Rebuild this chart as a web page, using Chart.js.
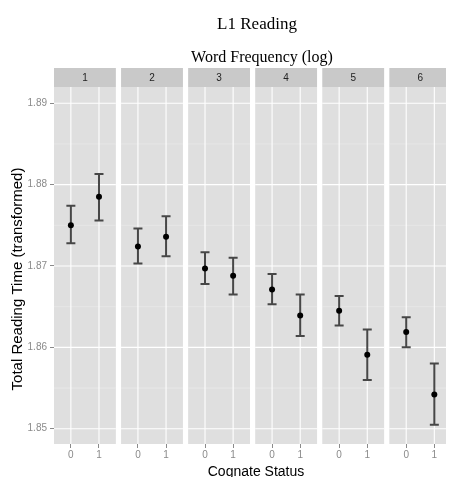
<!DOCTYPE html>
<html>
<head>
<meta charset="utf-8">
<title>L1 Reading</title>
<script src="https://cdn.jsdelivr.net/npm/chart.js@4.4.1/dist/chart.umd.min.js"></script>
<style>
  html, body { margin: 0; padding: 0; background: #fff; }
  #wrap { width: 450px; height: 477px; }
</style>
</head>
<body>
<div id="wrap"><canvas id="readingChart" width="450" height="477"></canvas></div>
<script>
// Word frequency panels and cognate status levels
const freqLevels = ['1', '2', '3', '4', '5', '6'];
const cognateLevels = ['0', '1'];

// Means and error bar limits
const means0 = [1.8750, 1.8724, 1.8697, 1.8671, 1.8645, 1.8619];
const lower0 = [1.8728, 1.8703, 1.8678, 1.8653, 1.8627, 1.8600];
const upper0 = [1.8774, 1.8746, 1.8717, 1.8690, 1.8663, 1.8637];
const means1 = [1.8785, 1.8736, 1.8688, 1.8639, 1.8591, 1.8542];
const lower1 = [1.8756, 1.8712, 1.8665, 1.8614, 1.8560, 1.8505];
const upper1 = [1.8813, 1.8761, 1.8710, 1.8665, 1.8622, 1.8580];

const yTicks = [1.85, 1.86, 1.87, 1.88, 1.89];
const yMinor = [1.855, 1.865, 1.875, 1.885];

// panel layout on the continuous x scale
const STRIDE = 2.385;
const PAD = 0.6;

function xPos(panel, cog) {
    return panel * STRIDE + cog;
}

const points = [];
const bars = [];
freqLevels.forEach((f, i) => {
    points.push({ x: xPos(i, 0), y: means0[i] });
    points.push({ x: xPos(i, 1), y: means1[i] });
    bars.push({ x: xPos(i, 0), lo: lower0[i], hi: upper0[i] });
    bars.push({ x: xPos(i, 1), lo: lower1[i], hi: upper1[i] });
});
const xTickValues = points.map(p => p.x);

const facetPlugin = {
    id: 'facets',
    beforeDatasetsDraw(chart) {
        const { ctx, chartArea, scales } = chart;
        const xs = scales.x, ys = scales.y;
        ctx.save();
        ctx.beginPath();
        ctx.rect(chartArea.left, 0, chartArea.right - chartArea.left, chart.height);
        ctx.clip();
        freqLevels.forEach((f, i) => {
            const l = xs.getPixelForValue(i * STRIDE - PAD);
            const r = xs.getPixelForValue(i * STRIDE + 1 + PAD);
            // panel background
            ctx.fillStyle = '#dfdfdf';
            ctx.fillRect(l, chartArea.top, r - l, chartArea.bottom - chartArea.top);
            // strip
            ctx.fillStyle = '#c9c9c9';
            ctx.fillRect(l, 68, r - l, chartArea.top - 68);
            ctx.fillStyle = '#222';
            ctx.font = '10px "Liberation Sans", Arial, sans-serif';
            ctx.textAlign = 'center';
            ctx.textBaseline = 'middle';
            ctx.fillText(f, (l + r) / 2, 78);
            // minor grid
            ctx.strokeStyle = '#ececec';
            ctx.lineWidth = 0.6;
            yMinor.forEach(v => {
                const y = ys.getPixelForValue(v);
                ctx.beginPath(); ctx.moveTo(l, y); ctx.lineTo(r, y); ctx.stroke();
            });
            // major grid
            ctx.strokeStyle = '#ffffff';
            ctx.lineWidth = 1.1;
            yTicks.forEach(v => {
                const y = ys.getPixelForValue(v);
                ctx.beginPath(); ctx.moveTo(l, y); ctx.lineTo(r, y); ctx.stroke();
            });
            cognateLevels.forEach((c, j) => {
                const x = xs.getPixelForValue(xPos(i, j));
                ctx.beginPath(); ctx.moveTo(x, chartArea.top); ctx.lineTo(x, chartArea.bottom); ctx.stroke();
            });
        });
        ctx.restore();

        // error bars
        ctx.save();
        ctx.strokeStyle = '#474747';
        ctx.lineWidth = 2;
        bars.forEach(b => {
            const x = xs.getPixelForValue(b.x);
            const y1 = ys.getPixelForValue(b.lo);
            const y2 = ys.getPixelForValue(b.hi);
            ctx.beginPath();
            ctx.moveTo(x, y1); ctx.lineTo(x, y2);
            ctx.moveTo(x - 4.5, y1); ctx.lineTo(x + 4.5, y1);
            ctx.moveTo(x - 4.5, y2); ctx.lineTo(x + 4.5, y2);
            ctx.stroke();
        });
        ctx.restore();
    },
    afterDraw(chart) {
        const { ctx } = chart;
        ctx.save();
        ctx.fillStyle = '#000';
        ctx.textAlign = 'center';
        ctx.textBaseline = 'alphabetic';
        ctx.font = '17px "Liberation Serif", "Times New Roman", serif';
        ctx.fillText('L1 Reading', 257, 29);
        ctx.font = '16px "Liberation Serif", "Times New Roman", serif';
        ctx.fillText('Word Frequency (log)', 262, 62);
        ctx.font = '14px "Liberation Sans", Arial, sans-serif';
        ctx.fillText('Cognate Status', 256, 476);
        ctx.font = '15px "Liberation Sans", Arial, sans-serif';
        ctx.translate(22, 279);
        ctx.rotate(-Math.PI / 2);
        ctx.fillText('Total Reading Time (transformed)', 0, 0);
        ctx.restore();
    }
};

new Chart(document.getElementById('readingChart'), {
    type: 'scatter',
    data: {
        datasets: [{
            data: points,
            backgroundColor: '#000',
            borderWidth: 0,
            pointRadius: 3
        }]
    },
    options: {
        responsive: false,
        animation: false,
        layout: { padding: { left: 0, right: 0, top: 87, bottom: 0 } },
        plugins: {
            legend: { display: false },
            tooltip: { enabled: false }
        },
        scales: {
            x: {
                type: 'linear',
                min: -PAD,
                max: 13.34,
                afterBuildTicks: scale => {
                    scale.ticks = xTickValues.map(v => ({ value: v }));
                },
                afterFit: scale => { scale.height = 33; },
                ticks: {
                    callback: (value, index) => cognateLevels[index % 2],
                    color: '#8a8a8a',
                    font: { size: 10, family: '"Liberation Sans", Arial, sans-serif' },
                    padding: 1,
                    maxRotation: 0,
                    autoSkip: false
                },
                grid: { drawOnChartArea: false, drawTicks: true, tickLength: 4, color: '#8a8a8a' },
                border: { display: false }
            },
            y: {
                min: 1.84812,
                max: 1.8920,
                afterBuildTicks: scale => {
                    scale.ticks = yTicks.map(v => ({ value: v }));
                },
                afterFit: scale => { scale.width = 54; },
                ticks: {
                    callback: v => v.toFixed(2),
                    color: '#8a8a8a',
                    font: { size: 10, family: '"Liberation Sans", Arial, sans-serif' },
                    padding: 3
                },
                grid: { drawOnChartArea: false, drawTicks: true, tickLength: 4, color: '#8a8a8a' },
                border: { display: false }
            }
        }
    },
    plugins: [facetPlugin]
});
</script>
</body>
</html>
